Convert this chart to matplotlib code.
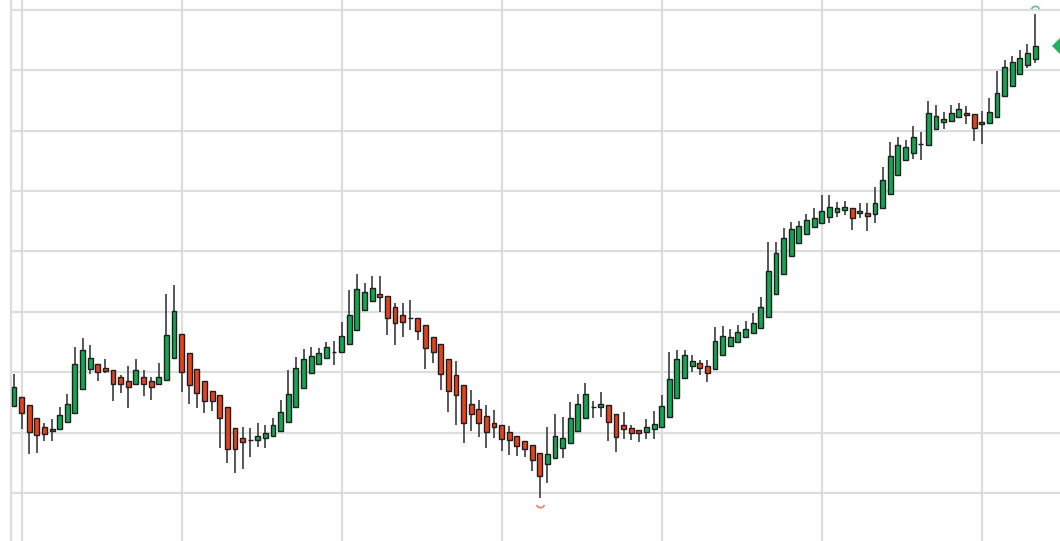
import matplotlib
matplotlib.use("Agg")
import matplotlib.pyplot as plt
import numpy as np
from matplotlib.path import Path

# OHLC values (arbitrary price units, no axis labels shown)
opens = [135, 144, 136, 123, 114, 110, 112, 119, 128, 152,
         172, 177, 173, 171, 164, 160, 157, 164, 160, 157,
         161, 183, 207, 188, 172, 160, 150, 146, 134, 113,
         103, 101, 101, 103, 105, 110, 119, 134, 153, 168,
         177, 183, 189, 189, 197, 211, 231, 240, 247, 245,
         234, 226, 223, 223, 216, 204, 197, 182, 166, 156,
         137, 132, 125, 118, 116, 109, 105, 100, 96, 88,
         77, 83, 93, 98, 110, 123, 134, 134, 136, 127,
         116, 113, 111, 109, 112, 114, 124, 143, 163, 175,
         178, 175, 172, 186, 195, 199, 204, 208, 213, 224,
         247, 267, 285, 298, 307, 314, 318, 324, 329, 331,
         333, 328, 328, 327, 333, 347, 366, 381, 388, 397,
         396, 412, 419, 420, 424, 428, 427, 419, 418, 424,
         445, 455, 467, 476, 482]
highs = [167, 144, 136, 123, 118, 122, 134, 147, 194, 203,
         196, 177, 182, 171, 166, 175, 182, 171, 164, 178,
         247, 256, 207, 188, 172, 160, 150, 146, 134, 113,
         114, 113, 118, 116, 123, 141, 171, 184, 192, 194,
         193, 199, 200, 219, 251, 267, 258, 265, 265, 245,
         238, 238, 241, 223, 216, 204, 197, 182, 180, 156,
         151, 141, 136, 131, 116, 115, 105, 100, 96, 88,
         114, 127, 124, 139, 147, 158, 140, 149, 136, 127,
         129, 116, 111, 122, 130, 146, 189, 191, 191, 186,
         181, 181, 214, 215, 212, 216, 220, 228, 244, 299,
         299, 313, 319, 320, 327, 333, 346, 346, 339, 340,
         333, 338, 338, 354, 374, 399, 404, 401, 415, 409,
         440, 436, 429, 436, 438, 435, 427, 430, 443, 470,
         481, 485, 491, 497, 527]
lows = [135, 112, 87, 88, 100, 100, 112, 119, 128, 152,
        167, 160, 168, 140, 148, 133, 157, 145, 141, 157,
        161, 183, 149, 137, 133, 128, 130, 93, 78, 68,
        72, 84, 94, 93, 105, 110, 119, 134, 153, 168,
        177, 183, 176, 189, 197, 211, 231, 240, 229, 206,
        196, 204, 211, 201, 172, 178, 151, 129, 116, 98,
        110, 104, 93, 103, 90, 86, 85, 84, 70, 43,
        58, 83, 83, 98, 110, 123, 123, 124, 100, 89,
        102, 101, 99, 102, 102, 114, 124, 143, 163, 169,
        166, 159, 172, 186, 195, 199, 204, 208, 213, 224,
        247, 267, 285, 298, 307, 314, 318, 318, 324, 326,
        311, 323, 310, 318, 333, 347, 366, 381, 382, 381,
        396, 412, 412, 420, 424, 417, 400, 397, 418, 424,
        445, 455, 467, 473, 478]
closes = [154, 128, 109, 106, 107, 112, 126, 137, 177, 191,
          183, 169, 170, 157, 157, 154, 171, 157, 154, 164,
          206, 230, 169, 156, 148, 140, 140, 123, 92, 92,
          99, 101.5, 105, 108, 116, 129, 147, 173, 182, 185,
          188, 194, 189, 205, 226, 252, 249, 253, 244, 223,
          218, 219, 223, 210, 193, 189, 167, 150, 146, 118,
          127, 118, 109, 114, 102, 101, 95, 92, 81, 65,
          87, 105, 103, 123, 137, 147, 134, 137, 119, 104,
          112, 108, 108, 114, 117, 135, 162, 182, 186, 180,
          173, 168, 200, 205, 204, 209, 212, 218, 234, 270,
          288, 303, 312, 315, 321, 323, 330, 334, 333, 334,
          323, 330, 325, 338, 361, 385, 396, 394, 404, 397,
          428, 425, 422, 428, 432, 426, 413, 417, 429, 448,
          474, 479, 483, 488, 495]

up_color = '#14a651'
down_color = '#e5421e'
grid_color = '#dddddd'

o = np.array(opens, dtype=float)
h = np.array(highs, dtype=float)
l = np.array(lows, dtype=float)
c = np.array(closes, dtype=float)
x = np.arange(len(o))
up = c >= o

fig = plt.figure(figsize=(10.6, 5.41), dpi=100)
ax = fig.add_axes([11 / 1060, 0, 1 - 11 / 1060, 1])

# grid
ax.set_xlim(-0.39, 137.27)
ax.set_ylim(0, 541)
ax.set_xticks(np.arange(1.05, 137, 21))
ax.set_yticks(np.arange(48, 541, 60.4))
ax.grid(True, color=grid_color, linewidth=1.6, zorder=0)
ax.tick_params(length=0, labelbottom=False, labelleft=False)
for side in ['top', 'right', 'bottom']:
    ax.spines[side].set_visible(False)
ax.spines['left'].set_color(grid_color)
ax.spines['left'].set_linewidth(1.6)
ax.set_axisbelow(True)

# wicks and bodies
ax.vlines(x, l, h, color='#4a4a4a', linewidth=1.3, zorder=2)
ax.bar(x[up], c[up] - o[up], bottom=o[up], width=0.64, color=up_color,
       edgecolor='#1e1e1e', linewidth=1.0, zorder=3)
ax.bar(x[~up], o[~up] - c[~up], bottom=c[~up], width=0.64, color=down_color,
       edgecolor='#1e1e1e', linewidth=1.0, zorder=3)

# high / low markers
arc_top = Path.arc(20, 160)
arc_bot = Path.arc(200, 340)
imax = int(np.argmax(h))
imin = int(np.argmin(l))
ax.plot(x[imax], h[imax] + 4, marker=arc_top, markersize=6, color='#5cc48a',
        markeredgewidth=1.2, markerfacecolor='none', clip_on=False, zorder=4)
ax.plot(x[imin], l[imin] - 5, marker=arc_bot, markersize=6, color='#f27a64',
        markeredgewidth=1.2, markerfacecolor='none', clip_on=False, zorder=4)

# last price marker, partly off the right edge
ax.plot(x[-1] + 3.55, c[-1], marker='D', markersize=10, color='#1fb15f',
        markeredgewidth=0, clip_on=False, zorder=4)

fig.savefig('out.png', dpi=100)
